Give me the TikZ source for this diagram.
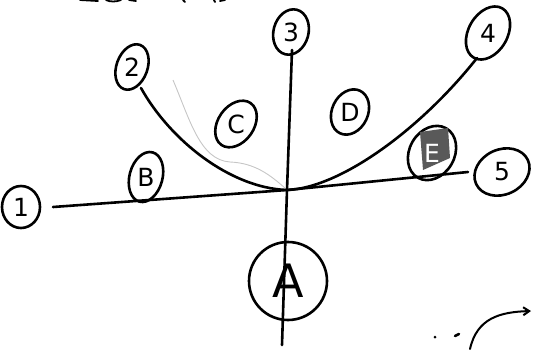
\documentclass[tikz,border=0pt]{standalone}
\usepackage{fontspec}
\setmainfont{DejaVu Sans}
\usetikzlibrary{shapes.geometric,arrows.meta}
\tikzset{
  pen/.style={line width=2.6pt, line cap=round, line join=round, black},
  ring/.style={ellipse, draw, line width=2.6pt, inner sep=0pt},
  txt/.style={font=\fontsize{25}{25}\selectfont, inner sep=0pt},
  bit/.style={line width=1.8pt, line cap=round, black},
}
\begin{document}
\begin{tikzpicture}[x=1pt,y=-1pt]
\useasboundingbox (0,0) rectangle (533,349);
% label ellipses (rings) and upright texts
\node[ring, minimum width=38pt, minimum height=42pt] (n1) at (21,207) {};
\node[txt] (t1) at (n1) {1};
\node[ring, minimum width=31pt, minimum height=47pt, rotate=-20] (n2) at (132,67) {};
\node[txt] (t2) at (n2) {2};
\node[ring, minimum width=35pt, minimum height=46pt, rotate=-15] (n3) at (291,32) {};
\node[txt] (t3) at (n3) {3};
\node[ring, minimum width=39pt, minimum height=57pt, rotate=-30] (n4) at (488,33) {};
\node[txt] (t4) at (n4) {4};
\node[ring, minimum width=57pt, minimum height=45pt, rotate=25] (n5) at (502,172) {};
\node[txt] (t5) at (n5) {5};
\node[ring, minimum width=33pt, minimum height=51pt, rotate=-15] (nB) at (146,177) {};
\node[txt] (tB) at (nB) {B};
\node[ring, minimum width=36pt, minimum height=51pt, rotate=-35] (nC) at (236,124) {};
\node[txt] (tC) at (nC) {C};
\node[ring, minimum width=36pt, minimum height=47pt, rotate=-25] (nD) at (350,112) {};
\node[txt] (tD) at (nD) {D};
\node[ring, minimum width=45pt, minimum height=57pt, rotate=-30] (nE) at (432,153) {};
\fill[black!65] (420,132) -- (448,128) -- (450,158) -- (423,170) -- cycle;
\node[txt, text=white] (tE) at (nE) {E};
\node[ring, circle, minimum size=78pt] (nA) at (288,281) {};
\node[font=\fontsize{46}{46}\selectfont, inner sep=0pt] (tA) at (nA) {A};
% crossing point and free ends
\coordinate (c) at (287,190);
\coordinate (l1) at (53,207);
\coordinate (l5) at (468,172);
\coordinate (v3) at (292,50);
\coordinate (vb) at (282,345);
% faint pencil curve
\draw[gray!45, line width=0.9pt] (173,80) .. controls (190,120) and (200,160) .. (230,162)
  .. controls (255,163) and (270,175) .. (285,188);
% main lines
\draw[pen] (l1) -- (c) -- (l5);
\draw[pen] (v3) -- (c) -- (vb);
\draw[pen] (141,88) .. controls (170,140) and (230,188) .. (c)
  .. controls (340,188) and (420,130) .. (477,58);
% bottom-right marks
\fill (435,337) circle (1.5pt);
\draw[pen] (455,336) -- (459,334);
\draw[pen, line width=2pt, -{Straight Barb[length=6pt,width=8pt]}] (470,349) .. controls (477,318) and (500,312) .. (531,311);
% cut-off handwriting at top edge
\draw[bit] (80,0) -- (98,1);
\draw[bit] (106,0) .. controls (110,2) and (116,2) .. (121,0);
\draw[bit] (129,0) -- (136,1);
\draw[bit] (183,0) -- (185,2);
\draw[bit] (214,0) -- (215,2);
\draw[bit] (220,1) -- (225,0);
\end{tikzpicture}
\end{document}
